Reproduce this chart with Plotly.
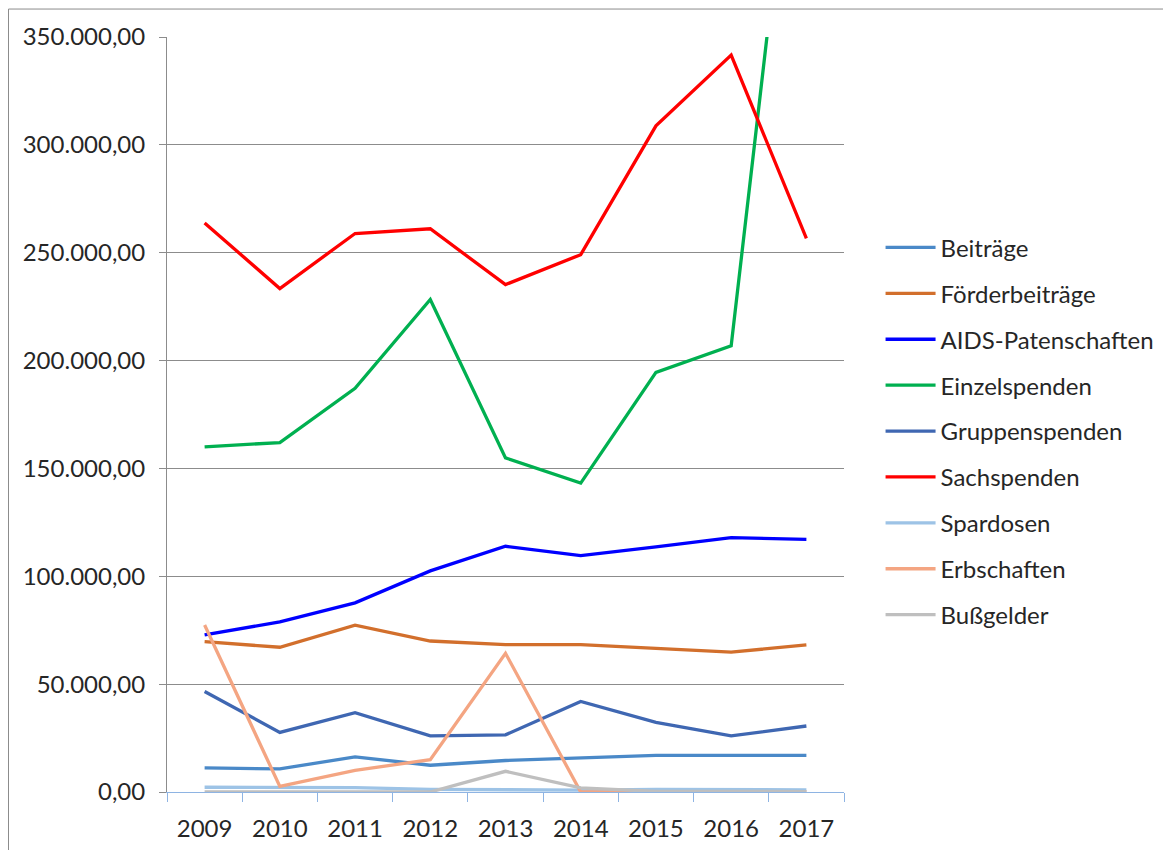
import plotly.graph_objects as go

years = ["2009", "2010", "2011", "2012", "2013", "2014", "2015", "2016", "2017"]

beitraege = [11200, 10700, 16300, 12400, 14600, 15800, 17000, 17000, 17000]
foerderbeitraege = [69700, 67100, 77300, 70000, 68300, 68300, 66600, 64800, 68200]
aids_patenschaften = [72800, 78900, 87700, 102500, 113900, 109600, 113600, 117900, 117100]
einzelspenden = [160000, 162000, 187100, 228300, 154900, 143200, 194500, 206800, 508000]
gruppenspenden = [46600, 27600, 36800, 26000, 26500, 42000, 32300, 26000, 30600]
sachspenden = [263800, 233400, 258900, 261100, 235200, 249100, 308800, 341600, 256600]
spardosen = [2200, 2200, 2000, 1200, 900, 900, 1200, 1000, 1000]
erbschaften = [77400, 2600, 10000, 15000, 64300, 0, 0, 0, 0]
bussgelder = [0, 0, 0, 0, 9600, 1900, 300, 200, 200]

series_names = ["Beiträge", "Förderbeiträge", "AIDS-Patenschaften", "Einzelspenden",
                "Gruppenspenden", "Sachspenden", "Spardosen", "Erbschaften", "Bußgelder"]
series_values = [beitraege, foerderbeitraege, aids_patenschaften, einzelspenden,
                 gruppenspenden, sachspenden, spardosen, erbschaften, bussgelder]
series_colors = ["#4A89C8", "#D26F2C", "#0000FF", "#00B050",
                 "#3F67B2", "#FF0000", "#9DC3E6", "#F4A582", "#BFBFBF"]

FONT = "Lato"
TXT = "#262626"

# page body has an 8px margin; plot area in figure pixels
L, R, T, B = 159, 836, 28.5, 784.5
W, H = 1171, 850
PW, PH = R - L, B - T

fig = go.Figure()
for name, vals, col in zip(series_names, series_values, series_colors):
    fig.add_trace(go.Scatter(
        x=years, y=vals, name=name, mode="lines",
        line=dict(color=col, width=3.3),
        legendgroup=name,
    ))

fig.update_layout(
    width=W, height=H,
    margin=dict(l=L, r=W - R, t=T, b=H - B, pad=0),
    paper_bgcolor="white", plot_bgcolor="white",
    separators=",.",
    font=dict(family=FONT, size=24, color=TXT),
    showlegend=True,
    legend=dict(
        x=1.054, y=0.7505, xanchor="left", yanchor="top",
        font=dict(family=FONT, size=24, color=TXT),
        tracegroupgap=11.7, itemwidth=50, bgcolor="rgba(0,0,0,0)",
    ),
    xaxis=dict(
        type="category", range=[-0.5, 8.5], showgrid=False, showline=True,
        linecolor="#8EB4E3", linewidth=1,
        ticks="outside", tickson="boundaries", ticklen=9,
        tickcolor="#8EB4E3", tickwidth=1,
        tickfont=dict(family=FONT, size=24, color=TXT),
        ticklabelstandoff=15,
    ),
    yaxis=dict(
        range=[0, 350000], dtick=50000, tickformat=",.2f",
        showgrid=True, gridcolor="#8C8C8C", gridwidth=1,
        showline=True, linecolor="#8C8C8C", linewidth=1,
        ticks="outside", ticklen=7, tickcolor="#8C8C8C",
        zeroline=False,
        tickfont=dict(family=FONT, size=24, color=TXT),
        ticklabelstandoff=9,
    ),
    shapes=[dict(
        type="rect", xref="paper", yref="paper",
        x0=(0.5 - L) / PW, x1=2.0, y0=-0.5, y1=1 + (T - 0.5) / PH,
        line=dict(color="#8C8C8C", width=1), fillcolor="rgba(0,0,0,0)", layer="below",
    )],
)

fig.write_html("out.html")
